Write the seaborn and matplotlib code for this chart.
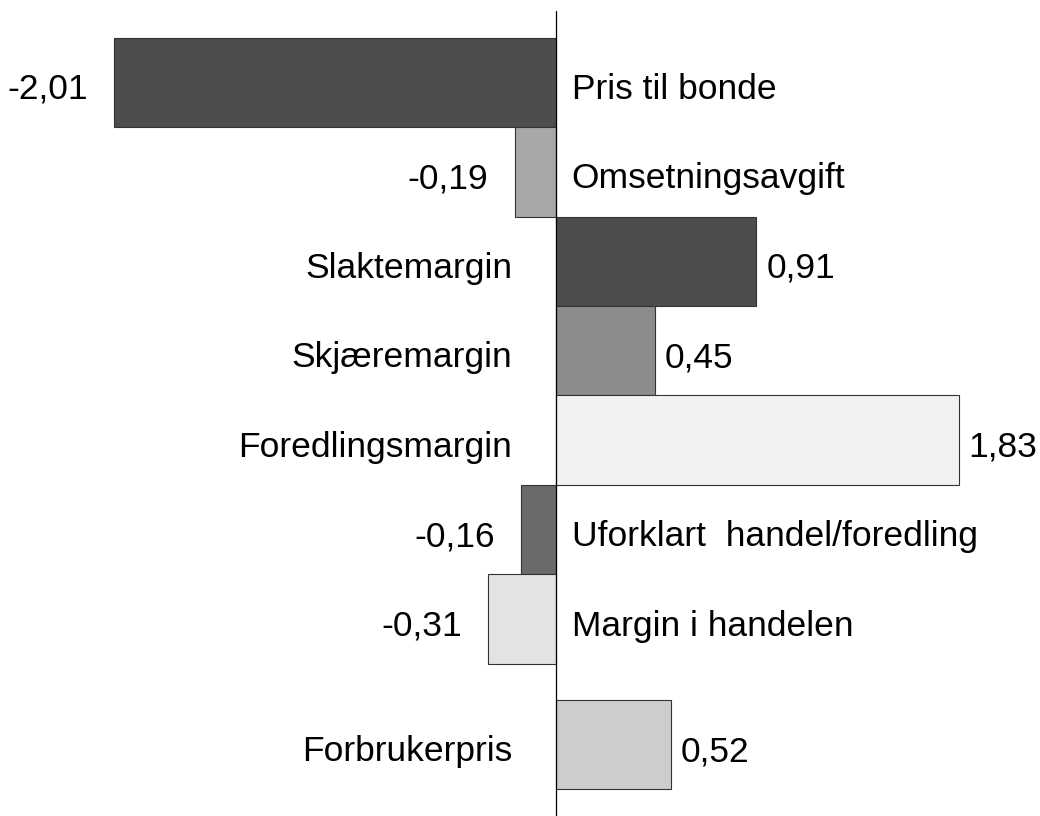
import matplotlib
matplotlib.use('Agg')
import matplotlib.pyplot as plt
import seaborn as sns
import pandas as pd

# chart data
categories = ['Pris til bonde', 'Omsetningsavgift', 'Slaktemargin', 'Skjæremargin',
              'Foredlingsmargin', 'Uforklart  handel/foredling', 'Margin i handelen',
              'Forbrukerpris']
values = [-2.01, -0.19, 0.91, 0.45, 1.83, -0.16, -0.31, 0.52]
value_labels = ['-2,01', '-0,19', '0,91', '0,45', '1,83', '-0,16', '-0,31', '0,52']
positions = [0, 1, 2, 3, 4, 5, 6, 7.4]
colors = ['#4d4d4d', '#a8a8a8', '#4d4d4d', '#8c8c8c', '#f2f2f2', '#6b6b6b', '#e3e3e3', '#cdcdcd']


def main():
    sns.set_style('white')
    plt.rcParams['font.family'] = ['Liberation Sans', 'DejaVu Sans']

    df = pd.DataFrame({'name': categories, 'value': values, 'pos': positions})

    fig = plt.figure(figsize=(10.4, 8.16), dpi=100)
    ax = fig.add_axes([0, 0, 1, 1])
    sns.barplot(data=df, x='value', y='pos', hue='name', orient='h', native_scale=True,
                palette=dict(zip(categories, colors)), dodge=False, width=1.0,
                edgecolor='#333333', linewidth=0.8, legend=False, ax=ax)

    ax.set_xlim(-2.53, 2.2)
    ax.set_ylim(8.2, -0.92)
    ax.axvline(0, ymin=0, ymax=0.987, color='black', lw=0.9, zorder=5)
    for s in ax.spines.values():
        s.set_visible(False)
    ax.set_xticks([])
    ax.set_yticks([])
    ax.set_xlabel('')
    ax.set_ylabel('')

    fs = 25.5
    for name, v, lab, p in zip(categories, values, value_labels, positions):
        ty = p + 0.08
        if v < 0:
            ax.text(v - 0.12, ty, lab, ha='right', va='center', fontsize=fs, color='black')
            ax.text(0.07, ty, name, ha='left', va='center', fontsize=fs, color='black')
        else:
            ax.text(v + 0.045, ty, lab, ha='left', va='center', fontsize=fs, color='black')
            ax.text(-0.2, ty, name, ha='right', va='center', fontsize=fs, color='black')

    plt.savefig('out.png', dpi=100)
    plt.close()


if __name__ == '__main__':
    main()
